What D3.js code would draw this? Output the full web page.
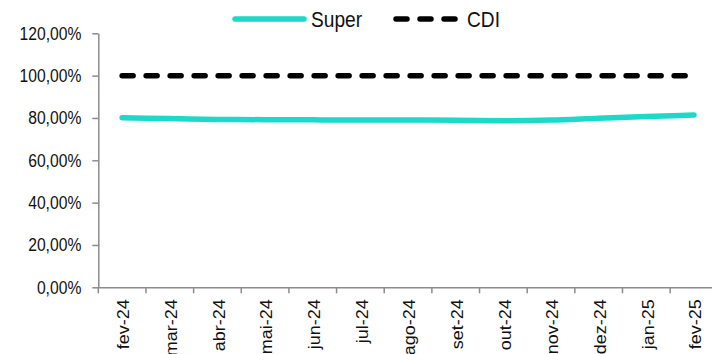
<!DOCTYPE html>
<html>
<head>
<meta charset="utf-8">
<script src="https://cdn.jsdelivr.net/npm/d3@7"></script>
<style>
  html, body { margin: 0; padding: 0; background: #fff; }
  svg { display: block; font-family: "Liberation Sans", Arial, sans-serif; }
</style>
</head>
<body>
<svg id="chart" width="712" height="354"></svg>
<script>
const categories = ["fev-24","mar-24","abr-24","mai-24","jun-24","jul-24","ago-24","set-24","out-24","nov-24","dez-24","jan-25","fev-25"];
const superValues = [80.1, 79.7, 79.3, 79.2, 79.1, 79.0, 79.0, 78.9, 78.7, 79.0, 79.9, 80.7, 81.4];
const cdiValues = [100, 100, 100, 100, 100, 100, 100, 100, 100, 100, 100, 100, 100];
const yTicks = [0, 20, 40, 60, 80, 100, 120];
const seriesNames = ["Super", "CDI"];

const svg = d3.select("#chart");
const plotLeft = 98.3, plotRight = 717.8, plotTop = 33.3, plotBottom = 287.3;
const squeeze = 0.87; // horizontal narrowing of the glyphs seen in the reference

const x = d3.scaleBand().domain(categories).range([plotLeft, plotRight]).padding(0);
const y = d3.scaleLinear().domain([0, 120]).range([plotBottom, plotTop]);
const fmt = v => d3.format(".2f")(v).replace(".", ",") + "%";
const axisColor = "#8c8c8c";

// Y axis
const gy = svg.append("g").attr("transform", `translate(${plotLeft},0)`)
  .call(d3.axisLeft(y).tickValues(yTicks).tickFormat(fmt).tickSize(6).tickSizeOuter(0).tickPadding(11));
gy.select(".domain").attr("stroke", axisColor).attr("stroke-width", 1.5);
gy.selectAll(".tick line").attr("stroke", axisColor).attr("stroke-width", 1.5);
gy.selectAll(".tick text")
  .attr("fill", "#111")
  .style("font-size", "18px")
  .attr("x", -17 / squeeze)
  .attr("transform", `scale(${squeeze},1)`);

// X axis with ticks at category boundaries
const gx = svg.append("g").attr("transform", `translate(0,${plotBottom})`)
  .call(d3.axisBottom(x).tickSize(0).tickSizeOuter(0).tickPadding(0));
gx.select(".domain").attr("stroke", axisColor).attr("stroke-width", 1.5);
gx.selectAll(".tick line").remove();
gx.selectAll(".tick text")
  .attr("fill", "#111")
  .style("font-size", "18px")
  .attr("transform", `rotate(-90) scale(1,${squeeze})`)
  .attr("text-anchor", "end")
  .attr("x", -12)
  .attr("y", 2)
  .attr("dy", "0.35em");
const boundaries = categories.map(c => x(c));
svg.append("g").selectAll("line").data(boundaries).join("line")
  .attr("x1", d => d).attr("x2", d => d)
  .attr("y1", plotBottom).attr("y2", plotBottom + 6)
  .attr("stroke", axisColor).attr("stroke-width", 1.5);

const cx = c => x(c) + x.bandwidth() / 2;
const line = d3.line().x((d, i) => cx(categories[i])).y(d => y(d)).curve(d3.curveMonotoneX);

const superColor = "#1dd9c9";
svg.append("path").datum(cdiValues)
  .attr("d", line).attr("fill", "none")
  .attr("stroke", "#000").attr("stroke-width", 5.5)
  .attr("stroke-linecap", "round")
  .attr("stroke-dasharray", "11,13");

svg.append("path").datum(superValues)
  .attr("d", line).attr("fill", "none")
  .attr("stroke", superColor).attr("stroke-width", 5.5)
  .attr("stroke-linecap", "round").attr("stroke-linejoin", "round");

// Legend
const lg = svg.append("g");
lg.append("line").attr("x1", 235).attr("x2", 304).attr("y1", 19).attr("y2", 19)
  .attr("stroke", superColor).attr("stroke-width", 5.5).attr("stroke-linecap", "round");
lg.append("text").attr("transform", `translate(311,27) scale(${squeeze},1)`).text(seriesNames[0])
  .style("font-size", "22px").attr("fill", "#111");
lg.append("line").attr("x1", 396).attr("x2", 455).attr("y1", 19).attr("y2", 19)
  .attr("stroke", "#000").attr("stroke-width", 5.5).attr("stroke-linecap", "round")
  .attr("stroke-dasharray", "11,13");
lg.append("text").attr("transform", `translate(467,27) scale(${squeeze},1)`).text(seriesNames[1])
  .style("font-size", "22px").attr("fill", "#111");
</script>
</body>
</html>
